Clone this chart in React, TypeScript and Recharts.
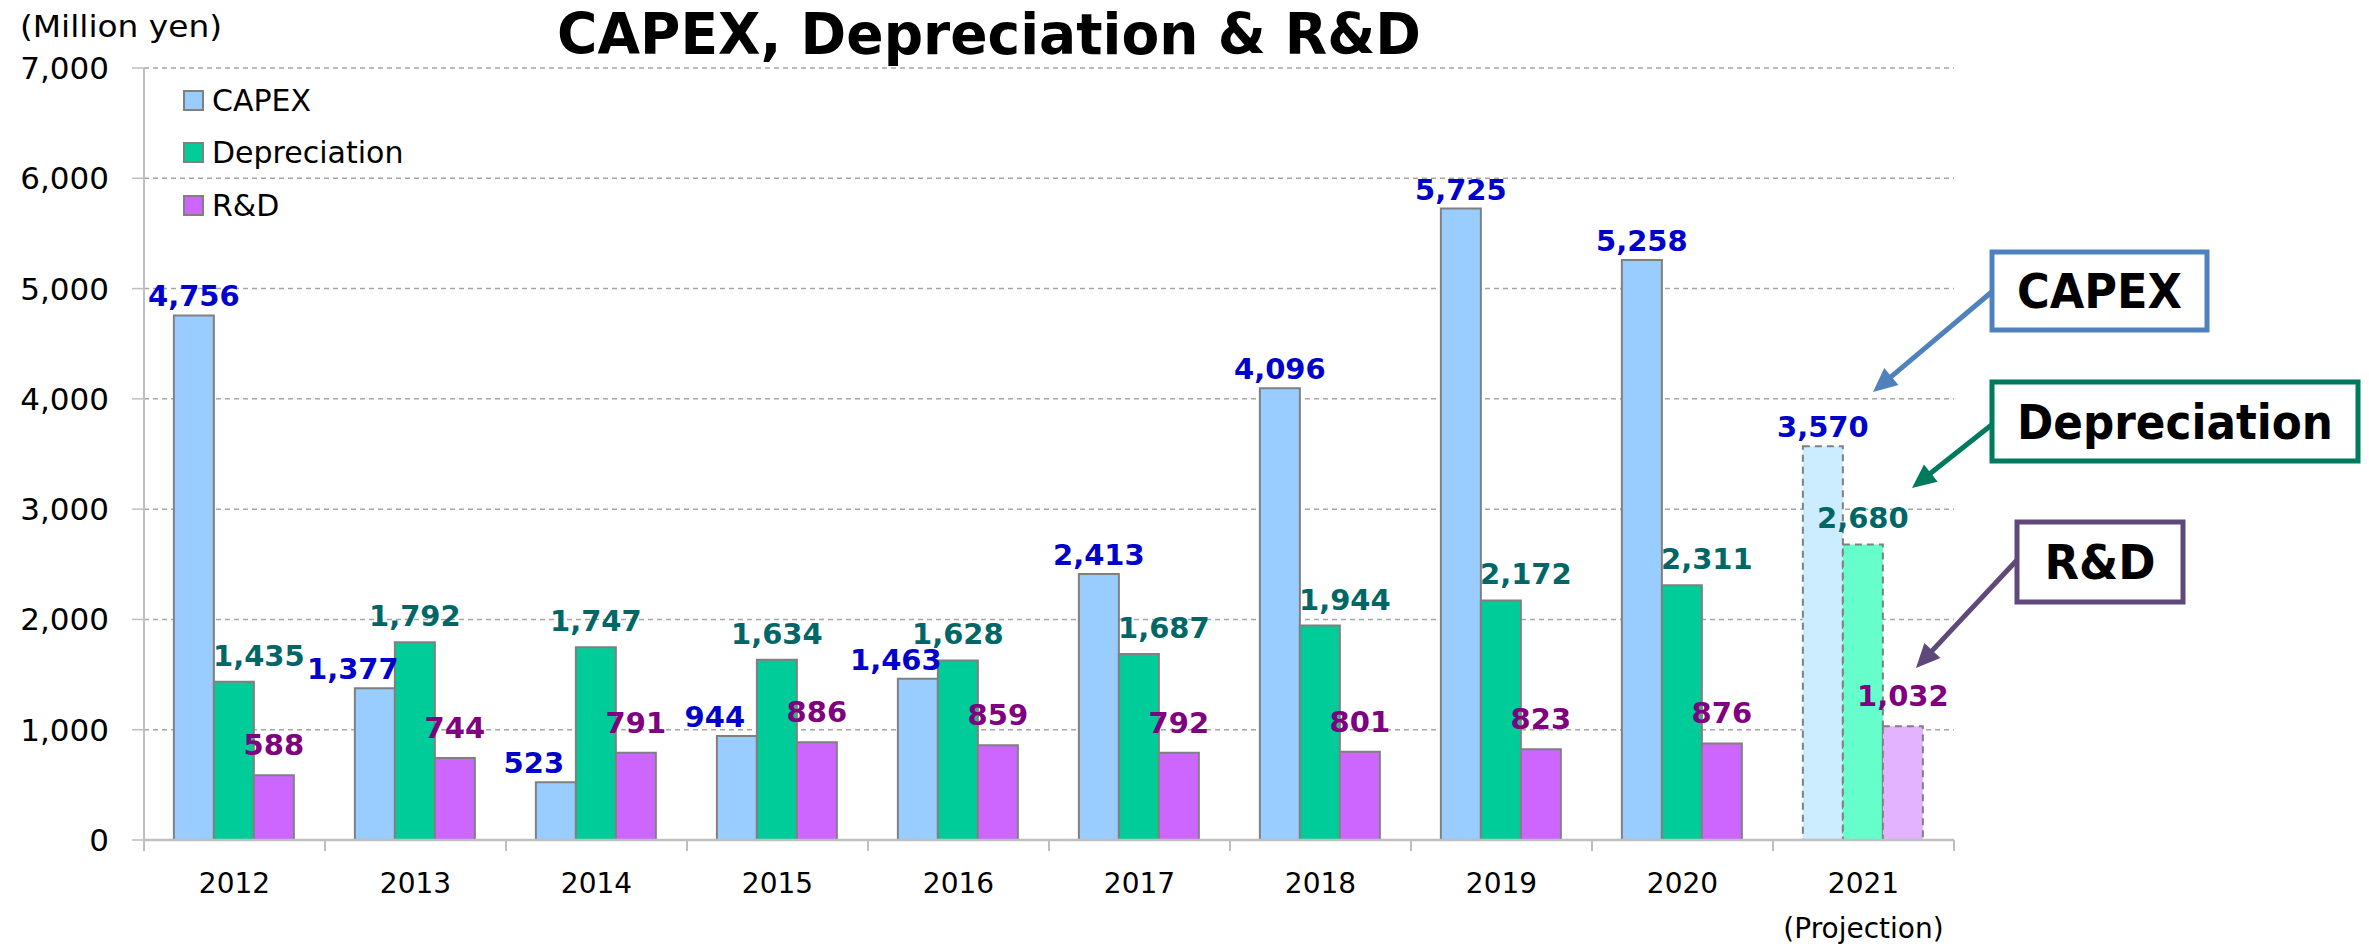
import { Bar, BarChart, CartesianGrid, Cell, LabelList, XAxis, YAxis } from "recharts";

const years = ["2012", "2013", "2014", "2015", "2016", "2017", "2018", "2019", "2020", "2021"];
const capex = [4756, 1377, 523, 944, 1463, 2413, 4096, 5725, 5258, 3570];
const depreciation = [1435, 1792, 1747, 1634, 1628, 1687, 1944, 2172, 2311, 2680];
const rnd = [588, 744, 791, 886, 859, 792, 801, 823, 876, 1032];
const yTicks = [0, 1000, 2000, 3000, 4000, 5000, 6000, 7000];
const projectionYear = "2021";
const projectionNote = "(Projection)";
const title = "CAPEX, Depreciation & R&D";
const unitLabel = "(Million yen)";

const W = 2369;
const H = 947;
const MARGIN = { top: 68, right: 415, bottom: 0, left: 0 };
const Y_AXIS_W = 144;
const X_AXIS_H = 107;
const BAND = (W - MARGIN.right - Y_AXIS_W) / years.length;

const FONT = "'DejaVu Sans', Verdana, sans-serif";
const AXIS = "#BFBFBF";

const data = years.map((year, i) => ({
  year,
  capex: capex[i],
  depreciation: depreciation[i],
  rnd: rnd[i],
}));

const series = [
  { key: "capex", name: "CAPEX", fill: "#99CCFF", projFill: "#CCECFF", label: "#0000CC", offset: 9 },
  { key: "depreciation", name: "Depreciation", fill: "#00CC99", projFill: "#66FFCC", label: "#006666", offset: 16 },
  { key: "rnd", name: "R&D", fill: "#CC66FF", projFill: "#E3B3FF", label: "#800080", offset: 20 },
];

// callout boxes on the right, pointing at the projection bars
const callouts = [
  { text: "CAPEX", color: "#4F81BD", box: [1992, 252, 215, 78], textW: 165, from: [1994, 290], to: [1873, 392] },
  { text: "Depreciation", color: "#007A5E", box: [1992, 382, 366, 79], textW: 316, from: [1994, 423], to: [1912, 488] },
  { text: "R&D", color: "#5F497A", box: [2017, 522, 166, 80], textW: 111, from: [2017, 560], to: [1916, 668] },
];

const fmt = (v: any) => Number(v).toLocaleString("en-US");

// nudge a label sideways when the neighbouring bar of the pair is taller
function labelShift(key: string, index: number) {
  const d = data[index];
  if (!d || d.year === projectionYear) return 0;
  if (key === "capex" && d.depreciation > d.capex) return -22;
  if (key === "depreciation" && d.capex > d.depreciation) return 25;
  return 0;
}

function makeLabel(s: (typeof series)[number]) {
  return (props: any) => {
    const { x, y, width, value, index } = props;
    return (
      <text
        x={Number(x) + Number(width) / 2 + labelShift(s.key, index)}
        y={Number(y) - s.offset}
        textAnchor="middle"
        fill={s.label}
        fontSize={29}
        fontWeight="bold"
        fontFamily={FONT}
      >
        {fmt(value)}
      </text>
    );
  };
}

function YearTick(props: any) {
  const { x, y, payload, index } = props;
  const half = BAND / 2;
  const last = index === years.length - 1;
  return (
    <g>
      <line x1={x - half} x2={x - half} y1={y} y2={y + 11} stroke={AXIS} strokeWidth={2} />
      {last && <line x1={x + half} x2={x + half} y1={y} y2={y + 11} stroke={AXIS} strokeWidth={2} />}
      <text x={x} y={y + 53} textAnchor="middle" fontSize={28} fontFamily={FONT} fill="#000">
        {payload.value}
      </text>
      {payload.value === projectionYear && (
        <text x={x} y={y + 98} textAnchor="middle" fontSize={28} fontFamily={FONT} fill="#000">
          {projectionNote}
        </text>
      )}
    </g>
  );
}

function LegendBox() {
  return (
    <div style={{ position: "absolute", left: 183, top: 74 }}>
      {series.map((s) => (
        <div key={s.key} style={{ display: "flex", alignItems: "center", height: 52.5 }}>
          <span
            style={{
              width: 17,
              height: 17,
              background: s.fill,
              border: "2px solid #808080",
              display: "inline-block",
            }}
          />
          <span style={{ marginLeft: 8, fontSize: 30, fontFamily: FONT, color: "#000" }}>{s.name}</span>
        </div>
      ))}
    </div>
  );
}

function Arrow({ from, to, color }: { from: number[]; to: number[]; color: string }) {
  const dx = to[0] - from[0];
  const dy = to[1] - from[1];
  const len = Math.hypot(dx, dy);
  const ux = dx / len;
  const uy = dy / len;
  const head = 24;
  const hw = 11;
  const bx = to[0] - ux * head;
  const by = to[1] - uy * head;
  const pts = [
    [to[0], to[1]],
    [bx - uy * hw, by + ux * hw],
    [bx + uy * hw, by - ux * hw],
  ]
    .map((p) => p.join(","))
    .join(" ");
  return (
    <g>
      <line x1={from[0]} y1={from[1]} x2={bx + ux * 4} y2={by + uy * 4} stroke={color} strokeWidth={5} />
      <polygon points={pts} fill={color} />
    </g>
  );
}

export default function App() {
  return (
    <div style={{ position: "absolute", left: 0, top: 0, width: W, height: H, background: "#fff" }}>
      <BarChart
        width={W}
        height={H}
        data={data}
        margin={MARGIN}
        barCategoryGap="16.5%"
        barGap={0}
      >
        <CartesianGrid vertical={false} stroke="#A6A6A6" strokeDasharray="5 4" strokeWidth={1.5} />
        <XAxis
          dataKey="year"
          height={X_AXIS_H}
          axisLine={{ stroke: AXIS, strokeWidth: 2.5 }}
          tickLine={false}
          tickSize={0}
          tickMargin={0}
          interval={0}
          tick={<YearTick />}
        />
        <YAxis
          width={Y_AXIS_W}
          domain={[0, 7000]}
          ticks={yTicks}
          interval={0}
          axisLine={{ stroke: AXIS, strokeWidth: 2 }}
          tickLine={{ stroke: AXIS, strokeWidth: 1.5 }}
          tickSize={12}
          tickMargin={23}
          tickFormatter={fmt}
          tick={{ fill: "#000", fontSize: 31, fontFamily: FONT }}
        />
        {series.map((s) => (
          <Bar key={s.key} dataKey={s.key} name={s.name} fill={s.fill} isAnimationActive={false}>
            {data.map((d) => {
              const proj = d.year === projectionYear;
              return (
                <Cell
                  key={d.year}
                  fill={proj ? s.projFill : s.fill}
                  stroke="#808080"
                  strokeWidth={2}
                  strokeDasharray={proj ? "7 5" : undefined}
                />
              );
            })}
            <LabelList dataKey={s.key} content={makeLabel(s)} />
          </Bar>
        ))}
      </BarChart>

      <LegendBox />

      <svg
        width={W}
        height={H}
        style={{ position: "absolute", left: 0, top: 0, pointerEvents: "none" }}
      >
        <text
          x={557}
          y={54}
          fontSize={57}
          fontWeight="bold"
          fontFamily={FONT}
          textLength={864}
          lengthAdjust="spacingAndGlyphs"
          fill="#000"
        >
          {title}
        </text>
        <text x={20} y={37} fontSize={30} fontFamily={FONT} textLength={202} lengthAdjust="spacingAndGlyphs" fill="#000">
          {unitLabel}
        </text>
        {callouts.map((c) => {
          const [bx, by, bw, bh] = c.box;
          return (
            <g key={c.text}>
              <Arrow from={c.from} to={c.to} color={c.color} />
              <rect x={bx} y={by} width={bw} height={bh} fill="#fff" stroke={c.color} strokeWidth={5} />
              <text
                x={bx + bw / 2 - c.textW / 2}
                y={by + bh / 2 + 17}
                fontSize={48}
                fontWeight="bold"
                fontFamily={FONT}
                textLength={c.textW}
                lengthAdjust="spacingAndGlyphs"
                fill="#000"
              >
                {c.text}
              </text>
            </g>
          );
        })}
      </svg>
    </div>
  );
}
